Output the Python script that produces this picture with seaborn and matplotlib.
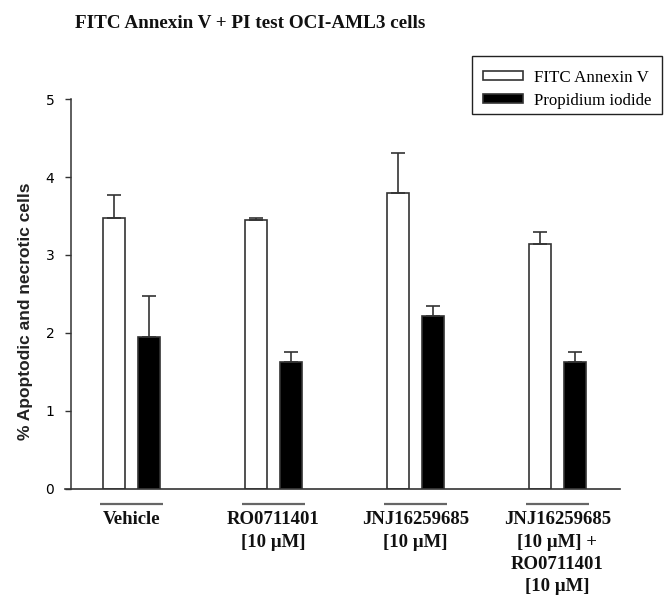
import matplotlib
matplotlib.use("Agg")
import matplotlib.pyplot as plt
from matplotlib.patches import Rectangle
import seaborn as sns
import pandas as pd

# ---- data ----
treatments = ["Vehicle", "RO0711401\n[10 µM]", "JNJ16259685\n[10 µM]",
              "JNJ16259685\n[10 µM] +\nRO0711401\n[10 µM]"]
stains = ["FITC Annexin V", "Propidium iodide"]
annexin_mean = [3.48, 3.45, 3.79, 3.14]
annexin_err = [0.29, 0.02, 0.52, 0.16]
pi_mean = [1.95, 1.62, 2.22, 1.62]
pi_err = [0.52, 0.14, 0.12, 0.14]
yticks = [0, 1, 2, 3, 4, 5]

df = pd.DataFrame({
    "treatment": treatments * 2,
    "stain": [stains[0]] * 4 + [stains[1]] * 4,
    "value": annexin_mean + pi_mean,
})

W, H = 665, 595
fig = plt.figure(figsize=(W / 100, H / 100), dpi=100)
y0_px, y5_px = 488.5, 99.3
ax = fig.add_axes([65 / W, (H - y0_px) / H, (620 - 65) / W, (y0_px - y5_px) / H])

sns.barplot(data=df, x="treatment", y="value", hue="stain", order=treatments,
            hue_order=stains, palette=["white", "black"], saturation=1,
            edgecolor="#333333", linewidth=1.2, width=0.5, gap=0.38,
            errorbar=None, ax=ax)
bar_containers = list(ax.containers)[:2]

ecol = "#333333"
for cont, errs in zip(bar_containers, [annexin_err, pi_err]):
    for bar, e in zip(cont, errs):
        x = bar.get_x() + bar.get_width() / 2
        v = bar.get_height()
        ax.errorbar(x, v, yerr=[[0], [e]], fmt="none", ecolor=ecol,
                    elinewidth=1.2, capsize=4.7, capthick=1.2, zorder=1)

# axes styling
ax.set_ylim(0, 5)
ax.set_xlim(-0.467, 3.441)
ax.set_yticks(yticks)
ax.set_yticklabels([str(t) for t in yticks], family="Liberation Sans",
                   fontweight="bold", fontsize=9.5, color="#333333")
ax.tick_params(axis="y", direction="out", length=4.5, width=1, color="#333333", pad=7.5)
ax.tick_params(axis="x", length=0, pad=16.5)
ax.set_xticks(range(len(treatments)))
ax.set_xticklabels(treatments, family="Liberation Serif", fontweight="bold",
                   fontsize=13.5, linespacing=1.4, color="#111111")
for s in ["top", "right"]:
    ax.spines[s].set_visible(False)
ax.spines["left"].set_position(("data", -0.425))
ax.spines["left"].set_color("#333333")
ax.spines["bottom"].set_color("#333333")
ax.spines["left"].set_linewidth(1.1)
ax.spines["bottom"].set_linewidth(1.2)
ax.set_xlabel("")
ax.set_ylabel("% Apoptodic and necrotic cells", family="Liberation Sans",
              fontweight="bold", fontsize=12.5, color="#222222")
ax.yaxis.set_label_coords((33 - 65) / 555, (y0_px - 311) / (y0_px - y5_px))

# group underlines
trans = ax.get_xaxis_transform()
c0, c1 = bar_containers
for b0, b1 in zip(c0, c1):
    xl = b0.get_x() - 0.018
    xr = b1.get_x() + b1.get_width() + 0.018
    yy = -(504 - y0_px) / (y0_px - y5_px)
    ax.plot([xl, xr], [yy, yy], transform=trans, color="#666666", lw=1.6,
            clip_on=False, solid_capstyle="butt")

# legend (entries) + separate frame box
handles, labels = ax.get_legend_handles_labels()
for h in handles:
    h.set_edgecolor("#333333")
leg = ax.legend(handles, stains, loc="center left",
                bbox_to_anchor=(482.7 / W, 1 - 89.4 / H), bbox_transform=fig.transFigure,
                frameon=False, prop={"family": "Liberation Serif", "size": 12.2},
                handlelength=2.4, handleheight=0.43, labelspacing=0.42,
                borderpad=0, handletextpad=0.63, borderaxespad=0)
fig.patches.append(Rectangle((471.7 / W, 1 - 114 / H), (662 - 471.7) / W, (114 - 55.7) / H,
                             transform=fig.transFigure, fill=False, edgecolor="#222222",
                             linewidth=1.0))

fig.text(250 / W, 1 - 23 / H, "FITC Annexin V + PI test OCI-AML3 cells",
         ha="center", va="center", family="Liberation Serif", fontweight="bold",
         fontsize=13.8, color="#111111")

fig.savefig("out.png", dpi=100, facecolor="white")
